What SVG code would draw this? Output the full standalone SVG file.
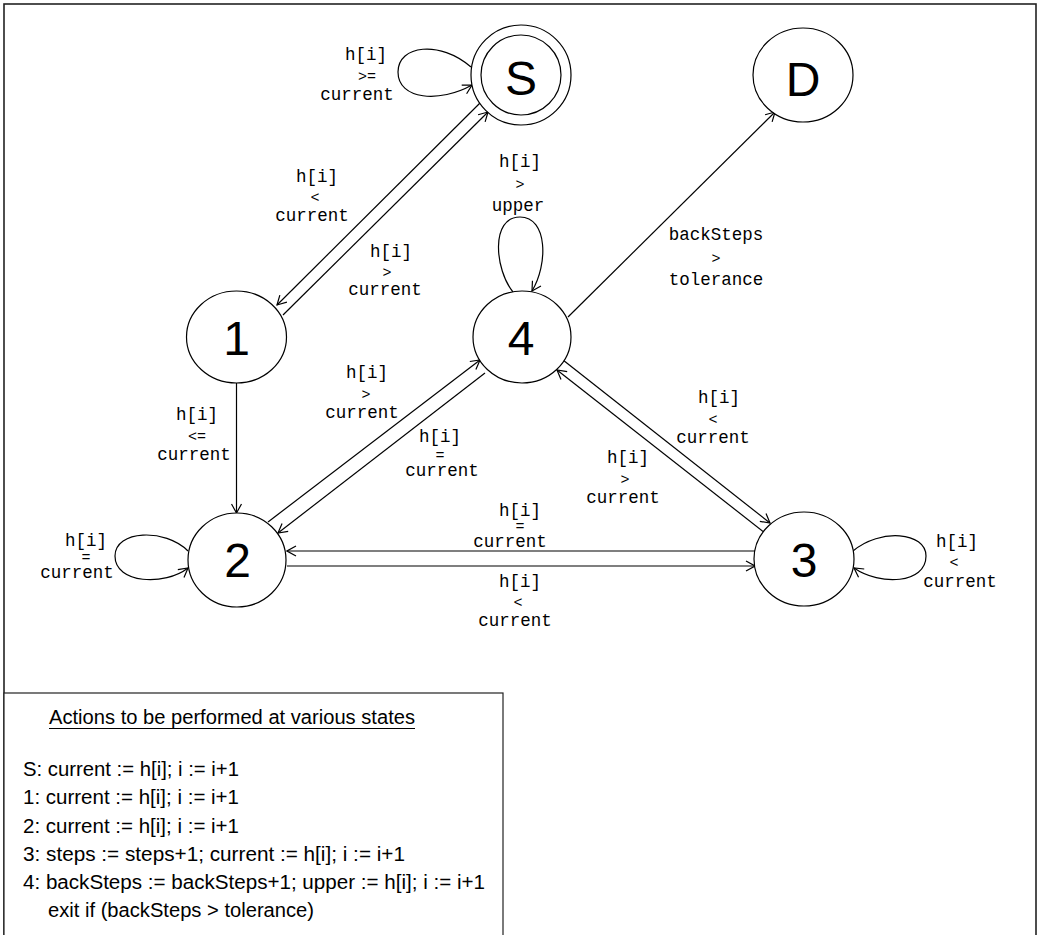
<svg xmlns="http://www.w3.org/2000/svg" width="1042" height="935" viewBox="0 0 1042 935">
<defs>
<style>
.node{fill:#fff;stroke:#000;stroke-width:1.2}
.nl{font-family:"Liberation Sans",Arial,sans-serif;font-size:48px;text-anchor:middle;fill:#000}
.el{font-family:"Liberation Mono","DejaVu Sans Mono",monospace;font-size:17.5px;text-anchor:middle;fill:#000}
.el .op{font-size:15px}
.edge{fill:none;stroke:#000;stroke-width:1.2;marker-end:url(#arr)}
.lg{font-family:"Liberation Sans",Arial,sans-serif;font-size:20px;fill:#000}
</style>
<marker id="arr" markerUnits="userSpaceOnUse" markerWidth="12" markerHeight="12" refX="11" refY="6" orient="auto">
<path d="M2,1 L11,6 L2,11" fill="none" stroke="#000" stroke-width="1.2"/>
</marker>
</defs>
<rect x="0" y="0" width="1042" height="935" fill="#fff"/>
<rect x="4" y="4" width="1032" height="945" fill="none" stroke="#222" stroke-width="1.6"/>

<g id="connectors">
<path class="edge" d="M480,103 L277,305"/>
<path class="edge" d="M283,315 L488,112"/>
<path class="edge" d="M568,317 L775,112"/>
<path class="edge" d="M236.5,383 L236.5,513"/>
<path class="edge" d="M268,522 L480,360"/>
<path class="edge" d="M485,373 L278,533"/>
<path class="edge" d="M755,551 L287,551"/>
<path class="edge" d="M287,566 L755,566"/>
<path class="edge" d="M563,360 L770,523"/>
<path class="edge" d="M765,533 L557,370"/>
<path class="edge" d="M471,67 C440,40 398,45 398,72 C398,100 440,103 472,85"/>
<path class="edge" d="M513,292 C495,270 490,217 520,217 C548,217 548,265 532,291"/>
<path class="edge" d="M188,551 C165,528 115,530 115,556 C115,584 165,586 188,568"/>
<path class="edge" d="M853,551 C880,528 926,532 926,556 C926,584 880,586 854,568"/>
</g>

<g id="edge-labels">
<text class="el"><tspan x="366" y="60">h[i]</tspan><tspan class="op" x="367" y="81">&gt;=</tspan><tspan x="357" y="100">current</tspan></text>
<text class="el"><tspan x="317" y="182">h[i]</tspan><tspan class="op" x="315" y="202">&lt;</tspan><tspan x="312" y="221">current</tspan></text>
<text class="el"><tspan x="391" y="257">h[i]</tspan><tspan class="op" x="387" y="277">&gt;</tspan><tspan x="385" y="295">current</tspan></text>
<text class="el"><tspan x="520" y="167">h[i]</tspan><tspan class="op" x="520" y="189">&gt;</tspan><tspan x="518" y="211">upper</tspan></text>
<text class="el"><tspan x="716" y="240">backSteps</tspan><tspan class="op" x="716" y="263">&gt;</tspan><tspan x="716" y="285">tolerance</tspan></text>
<text class="el"><tspan x="197" y="420">h[i]</tspan><tspan class="op" x="197" y="441">&lt;=</tspan><tspan x="194" y="460">current</tspan></text>
<text class="el"><tspan x="86" y="546">h[i]</tspan><tspan class="op" x="86" y="562">=</tspan><tspan x="77" y="578">current</tspan></text>
<text class="el"><tspan x="367" y="378">h[i]</tspan><tspan class="op" x="366" y="399">&gt;</tspan><tspan x="362" y="418">current</tspan></text>
<text class="el"><tspan x="440" y="442">h[i]</tspan><tspan class="op" x="440" y="460">=</tspan><tspan x="442" y="476">current</tspan></text>
<text class="el"><tspan x="520" y="516">h[i]</tspan><tspan class="op" x="520" y="531">=</tspan><tspan x="510" y="547">current</tspan></text>
<text class="el"><tspan x="520" y="587">h[i]</tspan><tspan class="op" x="518" y="607">&lt;</tspan><tspan x="515" y="626">current</tspan></text>
<text class="el"><tspan x="719" y="403">h[i]</tspan><tspan class="op" x="713" y="424">&lt;</tspan><tspan x="713" y="443">current</tspan></text>
<text class="el"><tspan x="628" y="463">h[i]</tspan><tspan class="op" x="625" y="484">&gt;</tspan><tspan x="623" y="503">current</tspan></text>
<text class="el"><tspan x="957" y="547">h[i]</tspan><tspan class="op" x="954" y="567">&lt;</tspan><tspan x="960" y="587">current</tspan></text>
</g>

<g id="node-S">
<circle class="node" cx="521" cy="75" r="50"/>
<circle class="node" cx="521" cy="75" r="40"/>
<text class="nl" x="521" y="95">S</text>
</g>
<g id="node-D">
<ellipse class="node" cx="803" cy="75" rx="50" ry="47"/>
<text class="nl" x="803" y="96">D</text>
</g>
<g id="node-1">
<ellipse class="node" cx="236.5" cy="337" rx="50" ry="46"/>
<text class="nl" x="236.5" y="355">1</text>
</g>
<g id="node-4">
<ellipse class="node" cx="522" cy="337" rx="49" ry="46"/>
<text class="nl" x="521" y="355">4</text>
</g>
<g id="node-2">
<ellipse class="node" cx="237" cy="560" rx="49" ry="47"/>
<text class="nl" x="237.5" y="577">2</text>
</g>
<g id="node-3">
<ellipse class="node" cx="804" cy="559" rx="50" ry="47"/>
<text class="nl" x="804" y="577">3</text>
</g>

<g id="legend">
<rect x="4" y="693" width="499" height="260" fill="#fff" stroke="#222" stroke-width="1.2"/>
<text class="lg" x="49" y="724" textLength="366" lengthAdjust="spacingAndGlyphs">Actions to be performed at various states</text>
<line x1="49" y1="728.5" x2="415" y2="728.5" stroke="#000" stroke-width="1"/>
<text class="lg" x="23" y="776" textLength="216" lengthAdjust="spacingAndGlyphs">S: current := h[i]; i := i+1</text>
<text class="lg" x="23" y="804" textLength="216" lengthAdjust="spacingAndGlyphs">1: current := h[i]; i := i+1</text>
<text class="lg" x="23" y="833" textLength="216" lengthAdjust="spacingAndGlyphs">2: current := h[i]; i := i+1</text>
<text class="lg" x="23" y="861" textLength="382" lengthAdjust="spacingAndGlyphs">3: steps := steps+1; current := h[i]; i := i+1</text>
<text class="lg" x="23" y="889" textLength="462" lengthAdjust="spacingAndGlyphs">4: backSteps := backSteps+1; upper := h[i]; i := i+1</text>
<text class="lg" x="48" y="917" textLength="266" lengthAdjust="spacingAndGlyphs">exit if (backSteps &gt; tolerance)</text>
</g>
</svg>
